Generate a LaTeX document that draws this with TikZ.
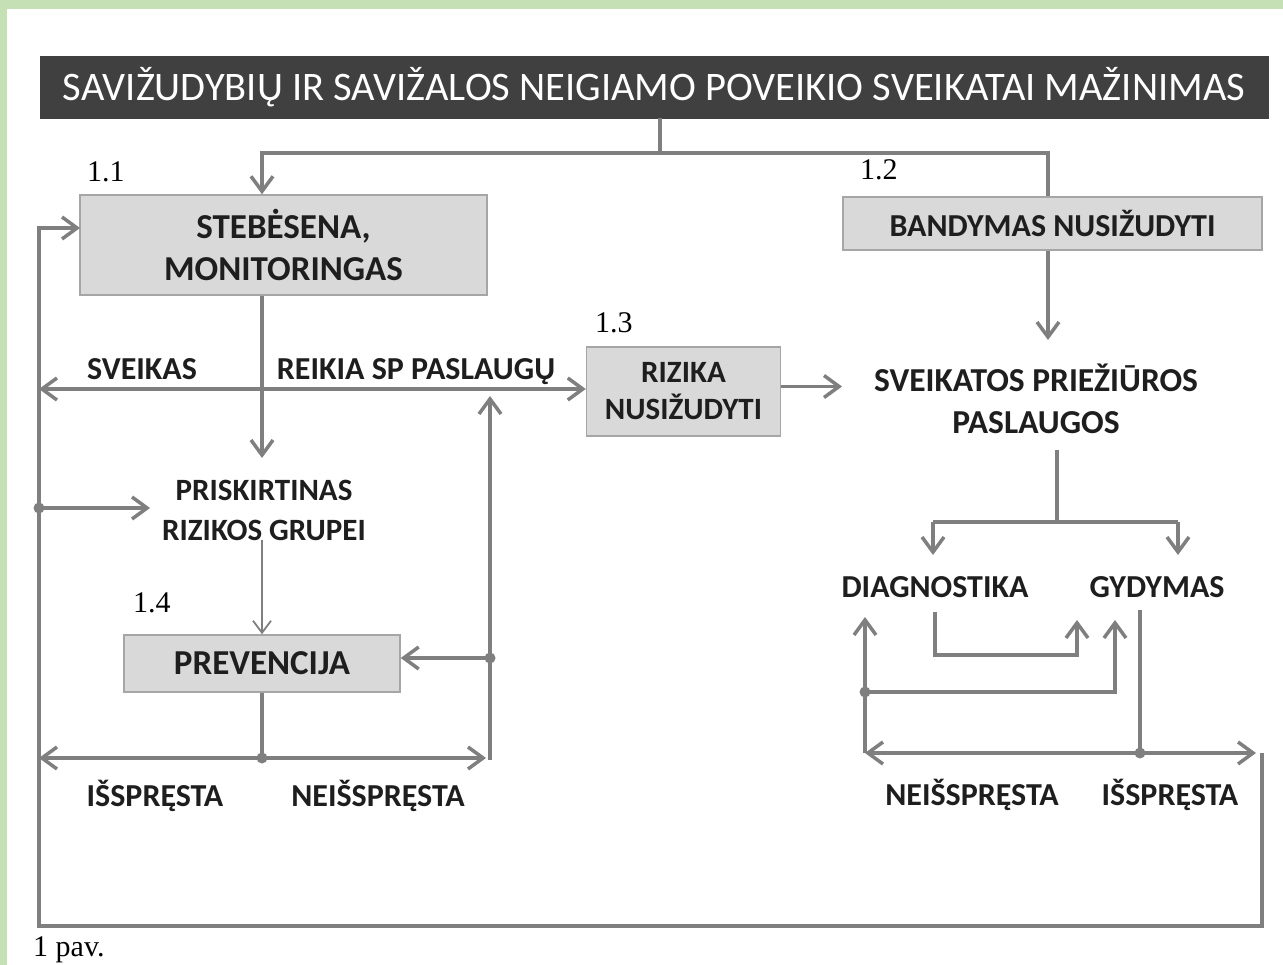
\documentclass[tikz,border=0pt]{standalone}
\usepackage{fontspec}
\setmainfont{Carlito}
\newfontfamily\numfont{Liberation Serif}
\usetikzlibrary{arrows.meta}
\definecolor{lnc}{HTML}{7F7F7F}
\definecolor{boxfill}{HTML}{D9D9D9}
\definecolor{boxline}{HTML}{A6A6A6}
\definecolor{titlefill}{HTML}{404040}
\definecolor{txt}{HTML}{1E1E1E}
\definecolor{greenbg}{HTML}{C5E0B4}
\newcommand{\fs}[2]{\fontsize{#1}{#2}\selectfont}
\begin{document}
\begin{tikzpicture}[x=1pt,y=-1pt,
  >={Straight Barb[length=15pt,width=22pt]},
  ln/.style={draw=lnc,line width=3.5pt},
  thinln/.style={draw=lnc,line width=1.8pt,>={Straight Barb[length=12pt,width=18pt]}},
  box/.style={draw=boxline,fill=boxfill,line width=1.5pt,inner sep=0pt,text=txt,align=center},
  lbl/.style={inner sep=0pt,text=txt,font=\bfseries\fs{32}{38},anchor=base},
  txtnode/.style={inner sep=0pt,text=txt,align=center},
  num/.style={inner sep=0pt,font=\numfont\fs{30}{36},anchor=base west},
  dotc/.style={fill=lnc}]
\useasboundingbox (0,0) rectangle (1283,965);
\fill[white] (0,0) rectangle (1283,965);
\fill[greenbg] (0,0) rectangle (1283,9);
\fill[greenbg] (0,0) rectangle (7,965);

% nodes
\node[fill=titlefill,draw=titlefill,minimum width=1228pt,minimum height=62pt,inner sep=0pt,text=white,font=\fs{40.5}{48}] (title) at (654,87) {SAVIŽUDYBIŲ IR SAVIŽALOS NEIGIAMO POVEIKIO SVEIKATAI MAŽINIMAS};
\node[box,minimum width=407pt,minimum height=100pt,font=\bfseries\fs{35}{42}] (stb) at (283.5,245) {STEBĖSENA,\\MONITORINGAS};
\node[box,minimum width=419pt,minimum height=53pt,font=\bfseries\fs{32}{38}] (band) at (1052.5,223.5) {BANDYMAS NUSIŽUDYTI};
\node[box,minimum width=194pt,minimum height=89pt,font=\bfseries\fs{31}{37}] (riz) at (683.5,391.5) {RIZIKA\\NUSIŽUDYTI};
\node[box,minimum width=276pt,minimum height=57pt,font=\bfseries\fs{35}{40}] (prev) at (262,663.5) {PREVENCIJA};
\node[txtnode,font=\bfseries\fs{33.5}{42}] (sv) at (1036,399) {SVEIKATOS PRIEŽIŪROS\\PASLAUGOS};
\node[txtnode,font=\bfseries\fs{31}{40}] (prisk) at (264,510) {PRISKIRTINAS\\RIZIKOS GRUPEI};
\node[lbl] (diag) at (935,597) {DIAGNOSTIKA};
\node[lbl] (gyd) at (1157,597) {GYDYMAS};
\node[lbl] (sveikas) at (142,380) {SVEIKAS};
\node[lbl] (reikia) at (416,380) {REIKIA SP PASLAUGŲ};
\node[lbl] (isL) at (155,806) {IŠSPRĘSTA};
\node[lbl] (neisL) at (378,806) {NEIŠSPRĘSTA};
\node[lbl] (neisR) at (972,805) {NEIŠSPRĘSTA};
\node[lbl] (isR) at (1170,805) {IŠSPRĘSTA};
\node[num] (n11) at (87,182) {1.1};
\node[num] (n12) at (860,180) {1.2};
\node[num] (n13) at (595,333) {1.3};
\node[num] (n14) at (133,612) {1.4};
\node[inner sep=0pt,font=\numfont\fs{30}{36},anchor=base west] (pav) at (33,956) {1 pav.};

% coordinates
\coordinate (tj) at (660,153);
\coordinate (cx) at (262,0);
\coordinate (rx) at (1048,0);
\coordinate (lx) at (39,0);
\coordinate (svtop) at (1048,340);
\coordinate (svarr) at (842,0);
\coordinate (priskin) at (262,458);
\coordinate (pdot) at (490,658);
\coordinate (cdot) at (262,758);
\coordinate (ldot) at (39,508);
\coordinate (larr) at (150,508);
\coordinate (sbot) at (1057,450);
\coordinate (sj) at (1057,522);
\coordinate (dL) at (933,522);
\coordinate (dR) at (1178,522);
\coordinate (dLt) at (933,555);
\coordinate (dRt) at (1178,555);
\coordinate (diagb) at (935,612);
\coordinate (dgc) at (935,655);
\coordinate (gA) at (1077,620);
\coordinate (rdot) at (865,692);
\coordinate (gB) at (1115,620);
\coordinate (diagup) at (865,617);
\coordinate (rlow) at (865,753);
\coordinate (gydb) at (1140,610);
\coordinate (gdot) at (1140,753);
\coordinate (rarr) at (1256,753);
\coordinate (rcorner) at (1262,753);
\coordinate (bR) at (1262,926);
\coordinate (bL) at (39,926);
\coordinate (tL) at (39,228);
\coordinate (stbin) at (80,228);
\coordinate (lhl) at (39,389);
\coordinate (lhr) at (39,758);
\coordinate (mhr) at (486,758);
\coordinate (vbot) at (490,760);
\coordinate (vtop) at (490,396);

% connectors
\draw[ln] (title.south -| tj) -- (tj);
\draw[ln,->] (tj) -| (stb.north -| cx);
\draw[ln] (tj) -| (band.north -| rx);
\draw[ln,->] (band.south -| rx) -- (svtop);
\draw[ln,->] ([yshift=5pt]riz.east) -- ([yshift=5pt]riz.east -| svarr);
\draw[ln,->] (stb.south -| cx) -- (priskin);
\draw[ln,<->] (lhl) -- (riz.west |- lhl);
\draw[ln,->] (ldot) -- (larr);
\draw[thinln,->] (prisk.south -| cx) -- (prev.north -| cx);
\draw[ln] (prev.south -| cx) -- (cdot);
\draw[ln,<->] (lhr) -- (mhr);
\draw[ln,->] (vbot) -- (vtop);
\draw[ln,->] (pdot) -- (prev.east |- pdot);
% right side
\draw[ln] (sbot) -- (sj);
\draw[ln,->] (dL) -- (dLt);
\draw[ln,->] (dR) -- (dRt);
\draw[ln] (dL) -- (dR);
\draw[ln,->] (diagb) -- (dgc) -| (gA);
\draw[ln,->] (rdot) -| (gB);
\draw[ln,->] (rlow) -- (diagup);
\draw[ln,<->] (rlow) -- (rarr);
\draw[ln] (gydb) -- (gdot);
\draw[ln,->] (rcorner) -- (bR) -- (bL) -- (tL) -- (stbin);
% dots
\foreach \p in {pdot,cdot,ldot,rdot,gdot} \fill[dotc] (\p) circle (5.5pt);
\end{tikzpicture}
\end{document}
